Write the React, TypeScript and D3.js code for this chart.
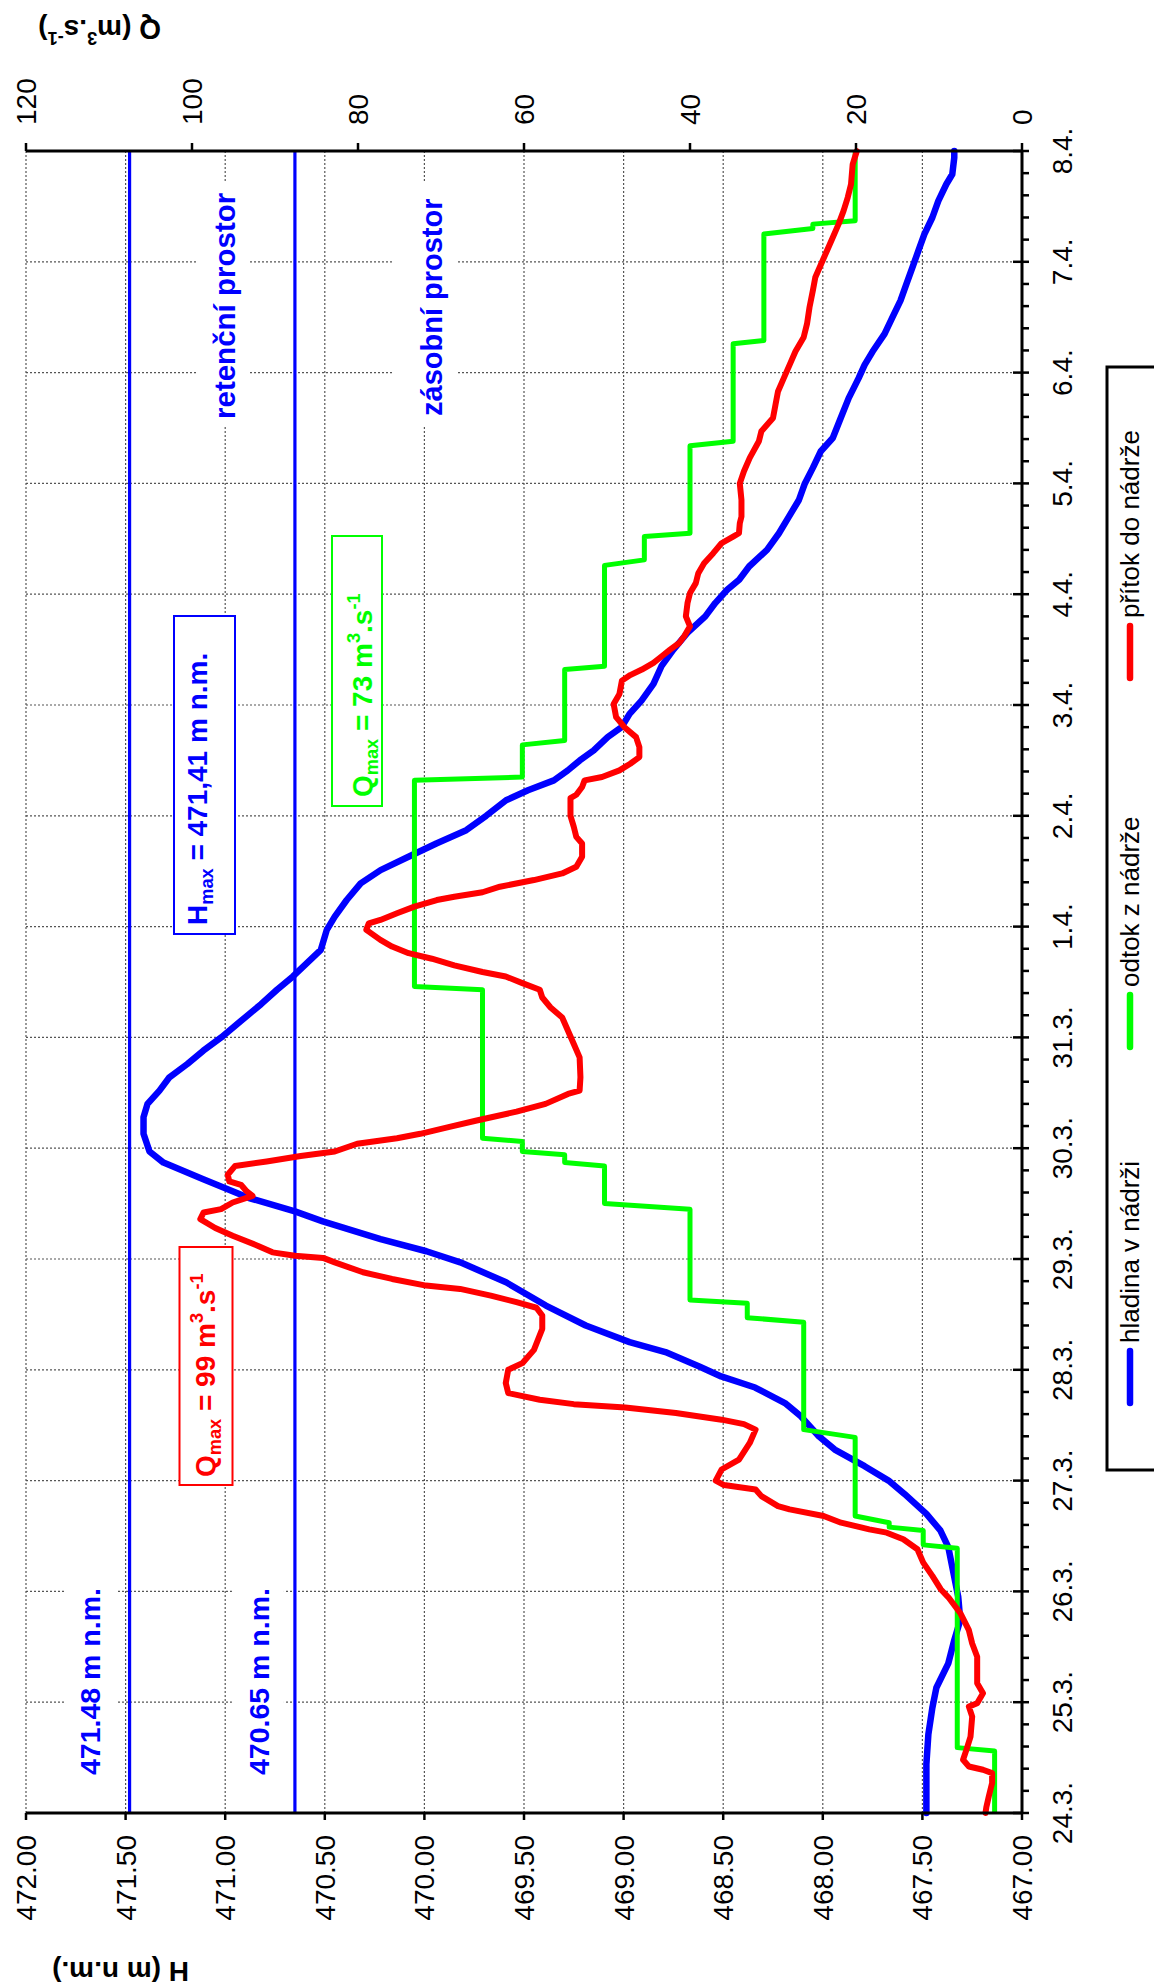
import React from "react";
import * as d3 from "d3";

// ---------- data ----------
// time = days since 24.3. 00:00
const dateLabels = ["24.3.", "25.3.", "26.3.", "27.3.", "28.3.", "29.3.", "30.3.", "31.3.", "1.4.", "2.4.", "3.4.", "4.4.", "5.4.", "6.4.", "7.4.", "8.4."];
const hTicks = [467, 467.5, 468, 468.5, 469, 469.5, 470, 470.5, 471, 471.5, 472];
const qTicks = [0, 20, 40, 60, 80, 100, 120];
const retentionLevel = 471.48;
const storageLevel = 470.65;

// hladina v nádrži [t, H m n.m.]
const hladina: [number, number][] = [
  [0.0, 467.48], [0.44, 467.48], [0.71, 467.47], [0.95, 467.45], [1.13, 467.43], [1.35, 467.37], [1.56, 467.34], [1.74, 467.31], [1.95, 467.32], [2.22, 467.35], [2.4, 467.37], [2.55, 467.41], [2.7, 467.48], [2.88, 467.59],
  [3.0, 467.67], [3.13, 467.79], [3.28, 467.94], [3.4, 468.02], [3.58, 468.11], [3.7, 468.19], [3.84, 468.34], [3.94, 468.51], [4.03, 468.62], [4.16, 468.79], [4.25, 468.97], [4.4, 469.19], [4.58, 469.39], [4.79, 469.59], [4.97, 469.82], [5.07, 469.99], [5.18, 470.22], [5.34, 470.51], [5.43, 470.65], [5.55, 470.88], [5.72, 471.11], [5.87, 471.31],
  [5.97, 471.38], [6.13, 471.41], [6.28, 471.41], [6.4, 471.39], [6.52, 471.33], [6.64, 471.28], [6.76, 471.19], [6.88, 471.11], [7.0, 471.02], [7.15, 470.92], [7.3, 470.82], [7.43, 470.74], [7.55, 470.66], [7.67, 470.59], [7.79, 470.52], [7.97, 470.49], [8.09, 470.45], [8.24, 470.39], [8.39, 470.32], [8.51, 470.22], [8.63, 470.08], [8.75, 469.94], [8.87, 469.79],
  [9.0, 469.69], [9.14, 469.59], [9.23, 469.48], [9.32, 469.35], [9.41, 469.28], [9.5, 469.22], [9.59, 469.15], [9.71, 469.08], [9.8, 469.01], [9.92, 468.97], [10.04, 468.91], [10.19, 468.85], [10.35, 468.81], [10.5, 468.75], [10.65, 468.68], [10.8, 468.59], [10.92, 468.54], [11.04, 468.48], [11.13, 468.42], [11.25, 468.37], [11.4, 468.28], [11.55, 468.22], [11.7, 468.17], [11.85, 468.12],
  [12.0, 468.09], [12.14, 468.05], [12.29, 468.01], [12.41, 467.95], [12.59, 467.91], [12.77, 467.87], [12.95, 467.82], [13.07, 467.79], [13.19, 467.75], [13.35, 467.69], [13.5, 467.65], [13.65, 467.61], [13.8, 467.58], [13.95, 467.55], [14.1, 467.52], [14.25, 467.49], [14.4, 467.45], [14.55, 467.42], [14.7, 467.38], [14.79, 467.35], [14.94, 467.34], [15.0, 467.34],
];

// odtok z nádrže [t, Q m3/s]
const odtok: [number, number][] = [
  [0, 3.3], [0.56, 3.3], [0.59, 7.8], [2.39, 7.8], [2.42, 11.9], [2.55, 11.9], [2.58, 16.0], [2.62, 16.0], [2.68, 20.1], [3.39, 20.1], [3.46, 26.3], [4.43, 26.3], [4.47, 33.1], [4.6, 33.1], [4.63, 40.0], [5.45, 40.0], [5.5, 50.3], [5.84, 50.3], [5.87, 55.1], [5.94, 55.1], [5.97, 60.2], [6.06, 60.2], [6.09, 65.0], [7.43, 65.0], [7.46, 73.2],
  [9.32, 73.2], [9.35, 60.2], [9.64, 60.2], [9.68, 55.1], [10.32, 55.1], [10.35, 50.3], [11.26, 50.3], [11.31, 45.5], [11.52, 45.5], [11.55, 40.0], [12.34, 40.0], [12.38, 34.8], [13.26, 34.8], [13.29, 31.1], [14.25, 31.1], [14.3, 25.2], [14.34, 25.2], [14.37, 20.1], [15.0, 20.1],
];

// přítok do nádrže [t, Q m3/s]
const pritok: [number, number][] = [
  [0.0, 4.4], [0.05, 4.3], [0.15, 4.0], [0.27, 3.6], [0.36, 3.6], [0.39, 4.7], [0.42, 6.4], [0.48, 7.1], [0.57, 6.7], [0.69, 6.2], [0.87, 6.0], [0.96, 6.4], [0.99, 5.4], [1.08, 4.7], [1.17, 5.4], [1.41, 5.4], [1.53, 6.0], [1.65, 6.4], [1.8, 7.4], [1.94, 8.8], [2.02, 9.8], [2.14, 10.8], [2.26, 11.9], [2.38, 12.6], [2.47, 14.3], [2.53, 16.3], [2.56, 18.4], [2.62, 21.8], [2.68, 23.9], [2.74, 28.0], [2.77, 29.4], [2.86, 31.4], [2.92, 32.1], [2.96, 35.9],
  [3.0, 36.9], [3.1, 36.2], [3.19, 34.1], [3.34, 32.8], [3.46, 32.1], [3.51, 33.5], [3.55, 36.2], [3.61, 41.7], [3.66, 47.8], [3.69, 54.0], [3.73, 58.1], [3.79, 61.9], [3.88, 62.2], [4.0, 61.9], [4.06, 60.2], [4.18, 58.8], [4.37, 57.8], [4.49, 57.8], [4.56, 58.5], [4.61, 60.9], [4.67, 64.0], [4.73, 67.7], [4.76, 71.8], [4.82, 75.9], [4.88, 79.4], [4.97, 82.8], [5.01, 84.2], [5.03, 87.6], [5.06, 90.3], [5.12, 92.1], [5.21, 95.1], [5.28, 97.2], [5.36, 99.0], [5.42, 98.6], [5.45, 96.5], [5.51, 95.1], [5.57, 92.7], [5.61, 93.4], [5.67, 94.1], [5.7, 95.5], [5.76, 95.7], [5.84, 94.8], [5.88, 91.0], [5.93, 86.9],
  [5.97, 82.8], [6.04, 80.1], [6.09, 75.3], [6.13, 72.5], [6.19, 69.1], [6.25, 65.7], [6.33, 60.9], [6.4, 57.4], [6.49, 54.7], [6.52, 53.3], [6.64, 53.2], [6.82, 53.3], [6.94, 54.0], [7.06, 54.7], [7.18, 55.4], [7.27, 56.8], [7.36, 57.8], [7.43, 58.1], [7.49, 60.2], [7.55, 62.2], [7.59, 65.0], [7.65, 68.4], [7.71, 71.1], [7.76, 73.9], [7.82, 75.9], [7.88, 77.3], [7.97, 79.0], [8.03, 78.7], [8.06, 77.3], [8.12, 75.3], [8.18, 73.2], [8.24, 70.5], [8.27, 68.4], [8.31, 65.0], [8.36, 62.9], [8.42, 58.8], [8.48, 55.4], [8.54, 53.7], [8.63, 53.0], [8.75, 53.0], [8.81, 53.7], [8.9, 54.0],
  [9.0, 54.4], [9.16, 54.4], [9.19, 53.7], [9.26, 53.0], [9.32, 52.7], [9.35, 50.6], [9.41, 48.5], [9.47, 47.2], [9.53, 46.1], [9.62, 46.1], [9.71, 46.5], [9.8, 47.9], [9.89, 48.9], [10.01, 49.2], [10.1, 48.5], [10.22, 48.2], [10.27, 47.2], [10.32, 45.8], [10.38, 44.4], [10.44, 43.4], [10.5, 42.4], [10.56, 41.3], [10.62, 40.7], [10.71, 40.0], [10.8, 40.5], [10.92, 40.3], [11.01, 40.0], [11.1, 39.3], [11.19, 39.0], [11.28, 38.3], [11.37, 37.2], [11.46, 36.2], [11.52, 34.8], [11.55, 34.1], [11.64, 34.0], [11.7, 33.8], [11.85, 33.8],
  [12.0, 34.0], [12.11, 33.5], [12.23, 32.8], [12.38, 31.7], [12.47, 31.4], [12.59, 30.0], [12.71, 29.7], [12.83, 29.4], [12.95, 28.7], [13.07, 28.0], [13.19, 27.3], [13.32, 26.3], [13.44, 25.9], [13.59, 25.6], [13.74, 25.2], [13.86, 24.9], [13.98, 24.2], [14.1, 23.5], [14.22, 22.8], [14.34, 22.1], [14.46, 21.5], [14.58, 21.0], [14.7, 20.6], [14.88, 20.4], [15.0, 19.9],
];

const legendItems = [
  { label: "hladina v nádrži", color: "#0000ff" },
  { label: "odtok z nádrže", color: "#00ff00" },
  { label: "přítok do nádrže", color: "#ff0000" },
];

// ---------- layout ----------
const W = 1154;
const HH = 1987;
const plotLeft = 26;
const plotTop = 151;
const plotRight = 1022;
const plotBottom = 1813;
const innerW = plotBottom - plotTop; // time length (rotated)
const innerH = plotRight - plotLeft; // value length (rotated)
const FONT = "'Liberation Sans', Arial, Helvetica, sans-serif";

type Seg = { t: string; k?: "sub" | "sup" };

function renderSegs(segs: Seg[], size: number) {
  let offset = 0;
  return segs.map((s, i) => {
    const target = s.k === "sub" ? size * 0.2 : s.k === "sup" ? -size * 0.42 : 0;
    const dy = target - offset;
    offset = target;
    return (
      <tspan key={i} dy={dy} fontSize={s.k ? size * 0.65 : size}>
        {s.t}
      </tspan>
    );
  });
}

export default function App() {
  const x = d3.scaleLinear().domain([0, 15]).range([0, innerW]);
  const yH = d3.scaleLinear().domain([467, 472]).range([innerH, 0]);
  const yQ = d3.scaleLinear().domain([0, 120]).range([innerH, 0]);

  const lineH = d3.line<[number, number]>().x((d) => x(d[0])).y((d) => yH(d[1]));
  const lineQ = d3.line<[number, number]>().x((d) => x(d[0])).y((d) => yQ(d[1]));

  const days = d3.range(0, 16);
  const minor = d3.range(0, 75).map((i) => i * 0.2).filter((v) => Math.abs(v - Math.round(v)) > 0.01);

  const grid = "#555";
  const legendU = [407, 763, 1132];

  return (
    <svg
      width={W}
      height={HH}
      style={{ position: "absolute", left: 0, top: 0, display: "block", background: "#fff" }}
      fontFamily={FONT}
    >
      <rect x={0} y={0} width={W} height={HH} fill="#fff" />

      {/* axis titles (screen coords, upside-down) */}
      <text x={161} y={20} transform="rotate(180 161 20)" fontSize={28} fontWeight="bold" style={{ whiteSpace: "pre" }}>
        {renderSegs([{ t: "Q (m" }, { t: "3", k: "sup" }, { t: ".s" }, { t: "-1", k: "sup" }, { t: ")" }], 28)}
      </text>
      <text x={189} y={1962} transform="rotate(180 189 1962)" fontSize={28} fontWeight="bold">
        H (m n.m.)
      </text>

      <g transform={`translate(${plotLeft},${plotBottom}) rotate(-90)`}>
        {/* gridlines */}
        {hTicks.filter((h) => h > 467).map((h) => (
          <line key={"gh" + h} x1={0} x2={innerW} y1={yH(h)} y2={yH(h)} stroke={grid} strokeWidth={1.2} strokeDasharray="2 2" />
        ))}
        {days.filter((d) => d > 0 && d < 15).map((d) => (
          <line key={"gd" + d} x1={x(d)} x2={x(d)} y1={0} y2={innerH} stroke={grid} strokeWidth={1.2} strokeDasharray="2 2" />
        ))}

        {/* labels with white background */}
        <rect x={1386} y={171} width={244} height={53} fill="#fff" />
        <text x={1394} y={209} fontSize={29.5} fontWeight="bold" fill="#0000ff">retenční prostor</text>
        <rect x={1386} y={366} width={244} height={65} fill="#fff" />
        <text x={1397} y={416} fontSize={29} fontWeight="bold" fill="#0000ff">zásobní prostor</text>
        <rect x={28} y={yH(retentionLevel) - 65} width={205} height={52} fill="#fff" />
        <text x={38} y={yH(retentionLevel) - 30} fontSize={28.5} fontWeight="bold" fill="#0000ff">471.48 m n.m.</text>
        <rect x={28} y={yH(storageLevel) - 63} width={205} height={52} fill="#fff" />
        <text x={38} y={yH(storageLevel) - 26} fontSize={28.5} fontWeight="bold" fill="#0000ff">470.65 m n.m.</text>

        {/* level lines */}
        {[retentionLevel, storageLevel].map((h) => (
          <line key={"lv" + h} x1={0} x2={innerW} y1={yH(h)} y2={yH(h)} stroke="#0000ff" strokeWidth={3.2} />
        ))}

        {/* annotation boxes */}
        <rect x={879} y={148} width={318} height={61} fill="#fff" stroke="#0000ff" strokeWidth={2} />
        <text x={888} y={181} fontWeight="bold" fill="#0000ff" style={{ whiteSpace: "pre" }}>
          {renderSegs([{ t: "H" }, { t: "max", k: "sub" }, { t: " = 471,41 m n.m." }], 28)}
        </text>
        <rect x={1007} y={306} width={270} height={50} fill="#fff" stroke="#00ff00" strokeWidth={2} />
        <text x={1016} y={346} fontWeight="bold" fill="#00ff00" style={{ whiteSpace: "pre" }}>
          {renderSegs([{ t: "Q" }, { t: "max", k: "sub" }, { t: " = 73 m" }, { t: "3", k: "sup" }, { t: ".s" }, { t: "-1", k: "sup" }], 28)}
        </text>
        <rect x={328} y={153.5} width={238} height={53} fill="#fff" stroke="#ff0000" strokeWidth={2} />
        <text x={336} y={189} fontWeight="bold" fill="#ff0000" style={{ whiteSpace: "pre" }}>
          {renderSegs([{ t: "Q" }, { t: "max", k: "sub" }, { t: " = 99 m" }, { t: "3", k: "sup" }, { t: ".s" }, { t: "-1", k: "sup" }], 28)}
        </text>

        {/* series */}
        <path d={lineH(hladina) || ""} fill="none" stroke="#0000ff" strokeWidth={6.5} strokeLinejoin="round" strokeLinecap="round" />
        <path d={lineQ(odtok) || ""} fill="none" stroke="#00ff00" strokeWidth={5} strokeLinejoin="round" />
        <path d={lineQ(pritok) || ""} fill="none" stroke="#ff0000" strokeWidth={6} strokeLinejoin="round" strokeLinecap="round" />

        {/* axes lines */}
        <line x1={0} x2={innerW} y1={innerH} y2={innerH} stroke="#000" strokeWidth={3} />
        <line x1={0} x2={0} y1={0} y2={innerH} stroke="#000" strokeWidth={3} />
        <line x1={innerW} x2={innerW} y1={0} y2={innerH} stroke="#000" strokeWidth={3} />

        {/* date axis */}
        {days.map((d) => (
          <line key={"dt" + d} x1={x(d)} x2={x(d)} y1={innerH - 9} y2={innerH + 7} stroke="#000" strokeWidth={2.5} />
        ))}
        {minor.map((d) => (
          <line key={"mt" + d} x1={x(d)} x2={x(d)} y1={innerH} y2={innerH + 7} stroke="#000" strokeWidth={2.5} />
        ))}
        {days.map((d) => (
          <text key={"dl" + d} x={x(d)} y={innerH + 50} fontSize={28} textAnchor="middle">{dateLabels[d]}</text>
        ))}

        {/* H axis */}
        {hTicks.map((h) => (
          <g key={"ht" + h}>
            <line x1={-7} x2={0} y1={yH(h)} y2={yH(h)} stroke="#000" strokeWidth={2.5} />
            <text x={-22} y={yH(h)} dy="0.36em" fontSize={28} textAnchor="end">{h.toFixed(2)}</text>
          </g>
        ))}

        {/* Q axis */}
        {qTicks.map((q) => (
          <g key={"qt" + q}>
            <line x1={innerW} x2={innerW + 8} y1={yQ(q)} y2={yQ(q)} stroke="#000" strokeWidth={2.5} />
            <text x={innerW + 26} y={yQ(q)} dy="0.36em" fontSize={28} textAnchor="start">{q}</text>
          </g>
        ))}

        {/* legend */}
        <rect x={343} y={1081} width={1103} height={220} fill="#fff" stroke="#000" strokeWidth={3} />
        {legendItems.map((it, i) => (
          <g key={it.label}>
            <line x1={legendU[i] + 3} x2={legendU[i] + 55} y1={1104} y2={1104} stroke={it.color} strokeWidth={6.5} strokeLinecap="round" />
            <text x={legendU[i] + 63} y={1113} fontSize={26}>{it.label}</text>
          </g>
        ))}
      </g>
    </svg>
  );
}
